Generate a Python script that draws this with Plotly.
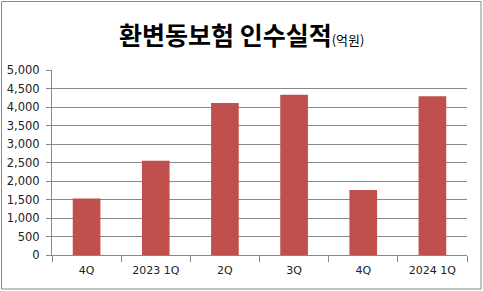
import plotly.graph_objects as go

categories = ["4Q", "2023 1Q", "2Q", "3Q", "4Q ", "2024 1Q"]
tick_text = ["4Q", "2023 1Q", "2Q", "3Q", "4Q", "2024 1Q"]
values = [1525, 2545, 4110, 4330, 1755, 4290]
y_ticks = [0, 500, 1000, 1500, 2000, 2500, 3000, 3500, 4000, 4500, 5000]

W, H = 483, 291
L, R, T, B = 52, 16, 70, 36
pw, ph = W - L - R, H - T - B

def px_x(x):
    return (x - L) / pw

def px_y(y):
    return (H - B - y) / ph

fig = go.Figure()
fig.add_trace(go.Bar(
    x=categories, y=values, marker=dict(color="#C0504D", line=dict(width=0)),
    width=0.4,
))

fig.update_layout(
    width=W, height=H,
    margin=dict(l=L, r=R, t=T, b=B, autoexpand=False),
    paper_bgcolor="white", plot_bgcolor="white",
    showlegend=False,
    font=dict(family="DejaVu Sans", size=11, color="#222222"),
    xaxis=dict(
        type="category", tickmode="array", tickvals=categories, ticktext=tick_text,
        tickson="boundaries", ticks="outside", ticklen=6, tickcolor="#888888",
        showline=True, linecolor="#888888", linewidth=1, showgrid=False,
        tickfont=dict(size=11), range=[-0.5, 5.5], ticklabelstandoff=5,
        automargin=False,
    ),
    yaxis=dict(
        range=[0, 5000], tickvals=y_ticks, tickformat=",d",
        ticks="outside", ticklen=5, tickcolor="#888888",
        showline=True, linecolor="#888888", linewidth=1,
        showgrid=True, gridcolor="#888888", gridwidth=1,
        zeroline=False, tickfont=dict(size=11.5), ticklabelstandoff=4,
        automargin=False,
    ),
    annotations=[dict(
        text="<b>환변동보험 인수실적</b><span style='font-size:13px'>(억원)</span>",
        xref="paper", yref="paper", x=px_x(W / 2), y=px_y(34),
        xanchor="center", yanchor="middle", showarrow=False,
        font=dict(family="Noto Sans CJK KR", size=25, color="#000000"),
    )],
    shapes=[dict(
        type="rect", xref="paper", yref="paper",
        x0=px_x(1.5), x1=px_x(481), y0=px_y(289), y1=px_y(1.5),
        line=dict(color="#888888", width=1), fillcolor="rgba(0,0,0,0)",
        layer="below",
    )],
)

fig.write_html("out.html")
